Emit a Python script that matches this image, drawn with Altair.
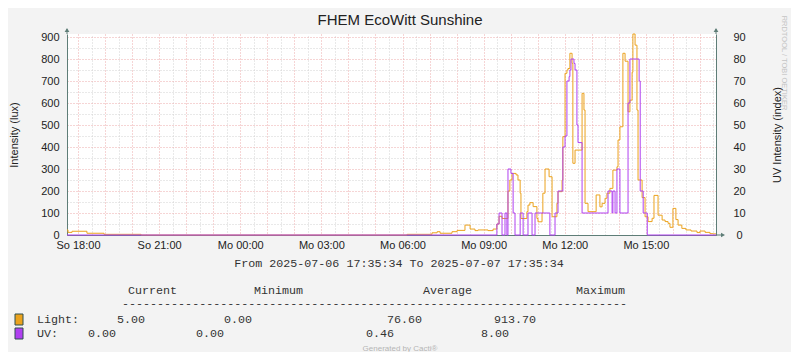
import altair as alt
import pandas as pd

# ---------------- data (hours since So 00:00) ----------------
START, END = 17.5928, 41.5928

light_t = [17.593, 17.63, 17.78, 18.33, 18.96, 20.33,
           30.17, 31.09, 31.28, 31.39, 31.83, 32.02, 32.31, 32.50, 32.68, 32.79,
           33.16, 33.35, 33.49, 33.57, 33.68, 33.90, 33.97, 34.05, 34.20, 34.27,
           34.35, 34.38, 34.60, 34.64, 34.71, 34.83, 34.97, 35.01, 35.16, 35.19,
           35.27, 35.42, 35.53, 35.71, 35.75, 35.90, 35.93, 36.01, 36.08, 36.12,
           36.19, 36.27, 36.30, 36.38, 36.64, 36.71, 36.75, 36.86, 37.16, 37.30,
           37.38, 37.49, 37.56, 37.67, 37.78, 37.93, 37.97, 38.04, 38.15, 38.23,
           38.34, 38.41, 38.49, 38.52, 38.60, 38.67, 38.71, 38.86, 38.97, 39.08,
           39.23, 39.30, 39.45, 39.60, 39.71, 39.82, 39.89, 40.00, 40.11, 40.19,
           40.33, 40.48, 40.67, 40.89, 41.00, 41.19, 41.37, 41.48]
light_v = [23, 12, 17, 8, 3, 0,
           3, 10, 15, 8, 15, 21, 45, 27, 20, 23,
           20, 27, 50, 85, 75, 200, 250, 280, 273, 250,
           190, 75, 106, 136, 147, 129, 75, 60, 100, 190,
           300, 265, 83, 144, 197, 250, 447, 735, 750, 757,
           826, 780, 326, 386, 644, 568, 144, 106, 182, 128,
           144, 167, 190, 212, 295, 310, 432, 492, 826, 790,
           560, 613, 740, 913.7, 863, 568, 250, 170, 83, 61,
           76, 180, 90, 68, 61, 53, 35, 121, 70, 45,
           30, 23, 18, 11, 18, 12, 6, 5]

uv_t = [17.593, 33.49, 33.57, 33.68, 33.79, 33.86, 33.90, 34.01, 34.09, 34.16,
        34.35, 34.46, 34.64, 34.79, 34.90, 35.45, 35.64, 35.75, 35.93, 36.01,
        36.08, 36.16, 36.19, 36.23, 36.34, 36.38, 36.45, 36.49, 36.64, 37.60,
        37.75, 37.78, 37.86, 37.93, 38.04, 38.34, 38.41, 38.75, 38.79, 38.90,
        39.05]
uv_v = [0, 0.5, 1, 0, 1, 0, 3, 2.8, 1, 0,
        1, 0, 1, 0, 1, 0, 1, 2, 4, 4.5,
        7, 7.2, 7.5, 8, 7.8, 7.5, 5, 4.2, 1, 2,
        1, 2, 1, 3, 1, 6, 8, 7, 2, 1,
        0]

y_ticks = list(range(0, 901, 100))
uv_ticks = list(range(0, 91, 10))
stat_names = ["Current", "Minimum", "Average", "Maximum"]
light_stats = ["5.00", "0.00", "76.60", "913.70"]
uv_stats = ["0.00", "0.00", "0.46", "8.00"]
title_text = "FHEM EcoWitt Sunshine"
period_text = "From 2025-07-06 17:35:34 To 2025-07-07 17:35:34"

rows = []
for t, v in zip(light_t + [END], light_v + [light_v[-1]]):
    rows.append({"t": t, "v": v, "s": "Light"})
for t, v in zip(uv_t + [END], uv_v + [uv_v[-1]]):
    rows.append({"t": t, "v": v * 100, "s": "UV"})
df = pd.DataFrame(rows)

# ---------------- style ----------------
W, H = 649, 201
YMAX = 913.7
AX = "#5E7D77"
FONT = "Liberation Sans"
MONO = "Liberation Mono"
ORANGE = "#EBA21D"
PURPLE = "#B040F0"
MINOR = "#D2D2D2"
MAJOR = "#EDAAAA"
TXT = "#222222"
LEG = "#333333"

xs = alt.Scale(domain=[START, END], nice=False, zero=False)
ys = alt.Scale(domain=[0, YMAX], nice=False)

minor_x = [h + 0.5 for h in range(18, 42)]
major_x = list(range(18, 42))
minor_y = list(range(50, 901, 100))

label_expr = ("datum.value % 3 == 0 ? ((datum.value < 24 ? 'So ' : 'Mo ') + "
              "(datum.value % 24 < 10 ? '0' : '') + (datum.value % 24) + ':00') : ''")

grid_minor = alt.Chart(df).mark_line(opacity=0).encode(
    x=alt.X("t:Q", scale=xs, axis=alt.Axis(values=minor_x, orient="top", grid=True,
            gridColor=MINOR, gridDash=[1, 2], domain=False, ticks=False, labels=False, title=None)),
    y=alt.Y("v:Q", scale=ys, axis=alt.Axis(values=minor_y, orient="left", grid=True,
            gridColor=MINOR, gridDash=[1, 2], domain=False, ticks=False, labels=False, title=None)),
)

lines = alt.Chart(df).mark_line(interpolate="step-after", strokeWidth=1).encode(
    x=alt.X("t:Q", scale=xs, axis=alt.Axis(values=major_x, labelExpr=label_expr, orient="bottom",
            grid=True, gridColor=MAJOR, gridDash=[1, 2], domainColor=AX, ticks=False,
            labelPadding=4, labelFont=FONT, labelFontSize=11, labelColor=TXT,
            labelOverlap=False, title=None)),
    y=alt.Y("v:Q", scale=ys, axis=alt.Axis(values=y_ticks, orient="left", grid=True,
            gridColor=MAJOR, gridDash=[1, 2], domainColor=AX, ticks=False,
            labelPadding=8, labelFont=FONT, labelFontSize=11, labelColor=TXT, title=None)),
    color=alt.Color("s:N", scale=alt.Scale(domain=["Light", "UV"], range=[ORANGE, PURPLE]), legend=None),
)

right = alt.Chart(df).transform_calculate(r="datum.v / 10").mark_line(opacity=0).encode(
    x=alt.X("t:Q", scale=xs, axis=None),
    y=alt.Y("r:Q", scale=alt.Scale(domain=[0, YMAX / 10], nice=False),
            axis=alt.Axis(values=uv_ticks, orient="right", grid=False, domainColor=AX, ticks=False,
                          labelAlign="center", labelPadding=23, labelFont=FONT, labelFontSize=11,
                          labelColor=TXT, title=None)),
)

dummy = pd.DataFrame({"d": [0]})


def txt(s, x, y, size=11, font=FONT, color=TXT, align="center", angle=0, baseline="middle"):
    return alt.Chart(dummy).mark_text(text=s, font=font, fontSize=size, color=color, align=align,
                                      baseline=baseline, angle=angle).encode(
        x=alt.value(x), y=alt.value(y))


texts = [
    txt(title_text, 333, -14, size=15),
    txt("Intensity (lux)", -52, 101, angle=270),
    txt("UV Intensity (index)", 711, 101, angle=270),
    txt("RRDTOOL / TOBI OETIKER", 717, 29, size=7.5, color="#C4C4C4", angle=90),
    txt(period_text, 332, 229, size=11.7, font=MONO, color=LEG),
    txt("Generated by Cacti®", 333, 315, size=8, color="#B5B5B5"),
    txt("-" * 72, 55, 269, size=11.7, font=MONO, color=LEG, align="left"),
    txt("Light:", -30, 285, size=11.7, font=MONO, color=LEG, align="left"),
    txt("UV:", -30, 299, size=11.7, font=MONO, color=LEG, align="left"),
]
header_x = [61, 187, 356, 509]
light_x = [50, 157, 320, 427]
uv_x = [21, 129, 299, 414]
for s, x in zip(stat_names, header_x):
    texts.append(txt(s, x, 256, size=11.7, font=MONO, color=LEG, align="left"))
for s, x in zip(light_stats, light_x):
    texts.append(txt(s, x, 285, size=11.7, font=MONO, color=LEG, align="left"))
for s, x in zip(uv_stats, uv_x):
    texts.append(txt(s, x, 299, size=11.7, font=MONO, color=LEG, align="left"))


def box(color, y0):
    return alt.Chart(dummy).mark_rect(fill=color, stroke="#2F4F4F", strokeWidth=1).encode(
        x=alt.value(-52), x2=alt.value(-44), y=alt.value(y0), y2=alt.value(y0 + 11))


def rule(x0, x1, y0, y1):
    return alt.Chart(dummy).mark_rule(color=AX, strokeWidth=1).encode(
        x=alt.value(x0), x2=alt.value(x1), y=alt.value(y0), y2=alt.value(y1))


def arrow(shape, x, y):
    return alt.Chart(dummy).mark_point(shape=shape, filled=True, size=22, color=AX, opacity=1).encode(
        x=alt.value(x), y=alt.value(y))


deco = [
    box(ORANGE, 280), box(PURPLE, 294),
    rule(0, 0, -5, 0), rule(649, 649, -5, 0), rule(649, 656, 201, 201),
    arrow("triangle-up", 0, -4), arrow("triangle-up", 649, -4), arrow("triangle-right", 656, 201),
]

chart = alt.layer(grid_minor, lines, right, *texts, *deco).resolve_scale(
    y="independent"
).resolve_axis(
    x="independent", y="independent"
).properties(
    width=W, height=H, background="#F3F3F3",
    padding={"left": 59, "top": 26, "right": 75, "bottom": 117},
    autosize=alt.AutoSizeParams(type="none"),
).configure_view(fill="white", strokeWidth=0)

chart.save("out.html", embed_options={"renderer": "svg", "actions": False})
